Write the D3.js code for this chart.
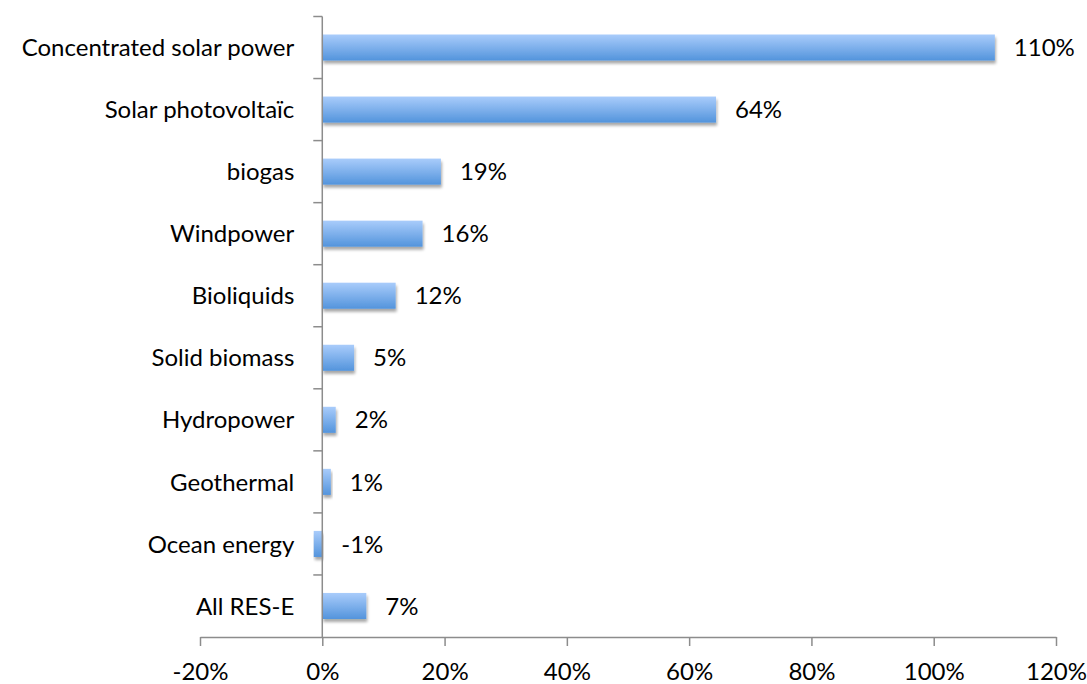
<!DOCTYPE html>
<html>
<head>
<meta charset="utf-8">
<script src="https://cdn.jsdelivr.net/npm/d3@7"></script>
<style>
  html, body { margin: 0; padding: 0; background: #fff; }
  svg { display: block; }
  text { font-family: Lato, "Open Sans", sans-serif; fill: #000; }
</style>
</head>
<body>
<svg id="chart" width="1087" height="684"></svg>
<script>
// Growth by renewable electricity technology
const categories = [
  "Concentrated solar power",
  "Solar photovoltaïc ",
  "biogas",
  "Windpower",
  "Bioliquids",
  "Solid biomass",
  "Hydropower",
  "Geothermal",
  "Ocean energy",
  "All RES-E"
];
const growth = [1.10, 0.644, 0.194, 0.164, 0.12, 0.052, 0.022, 0.014, -0.014, 0.072];
const xTicks = [-0.2, 0, 0.2, 0.4, 0.6, 0.8, 1.0, 1.2];

const data = categories.map((c, i) => ({ name: c, value: growth[i] }));

const svg = d3.select("#chart");
const margin = { top: 16.5, right: 31, bottom: 47, left: 200 };
const W = 1087, H = 684;
const FS = 24;

const x = d3.scaleLinear()
  .domain([-0.2, 1.2])
  .range([margin.left, W - margin.right]);

const y = d3.scaleBand()
  .domain(categories)
  .range([margin.top, H - margin.bottom])
  .paddingInner(0.58)
  .paddingOuter(0.29);

// percent format with a plain hyphen for negatives
const pct = d3.format(".0%");
const fmt = v => pct(v).replace("\u2212", "-");

const defs = svg.append("defs");
const grad = defs.append("linearGradient")
  .attr("id", "barFill").attr("x1", 0).attr("y1", 0).attr("x2", 0).attr("y2", 1);
grad.append("stop").attr("offset", "0%").attr("stop-color", "#a9ccfb");
grad.append("stop").attr("offset", "100%").attr("stop-color", "#5394dc");

const shadow = defs.append("filter").attr("id", "barShadow")
  .attr("x", "-10%").attr("y", "-30%").attr("width", "130%").attr("height", "180%");
shadow.append("feGaussianBlur").attr("in", "SourceAlpha").attr("stdDeviation", 1.6).attr("result", "b");
shadow.append("feOffset").attr("in", "b").attr("dx", 1).attr("dy", 2.5).attr("result", "o");
shadow.append("feComponentTransfer").attr("in", "o").attr("result", "s")
  .append("feFuncA").attr("type", "linear").attr("slope", 0.35);
const merge = shadow.append("feMerge");
merge.append("feMergeNode").attr("in", "s");
merge.append("feMergeNode").attr("in", "SourceGraphic");

// Bars
svg.append("g")
  .selectAll("rect")
  .data(data)
  .join("rect")
  .attr("x", d => x(Math.min(0, d.value)))
  .attr("y", d => y(d.name))
  .attr("width", d => Math.abs(x(d.value) - x(0)))
  .attr("height", y.bandwidth())
  .attr("fill", "url(#barFill)")
  .attr("filter", "url(#barShadow)");

// Value labels
svg.append("g")
  .selectAll("text")
  .data(data)
  .join("text")
  .attr("x", d => Math.max(x(d.value), x(0)) + 19)
  .attr("y", d => y(d.name) + y.bandwidth() / 2)
  .attr("dy", "0.36em")
  .attr("font-size", FS)
  .text(d => fmt(d.value));

// X axis
const xAxis = svg.append("g")
  .attr("transform", `translate(0,${H - margin.bottom})`)
  .call(d3.axisBottom(x).tickValues(xTicks).tickFormat(fmt).tickSize(9).tickSizeOuter(0).tickPadding(17));
xAxis.select(".domain").attr("stroke", "#8c8c8c").attr("stroke-width", 1.5);
xAxis.selectAll(".tick line").attr("stroke", "#8c8c8c").attr("stroke-width", 1.5);
xAxis.selectAll(".tick text").attr("font-size", FS).attr("font-family", "Lato, sans-serif").attr("fill", "#000");

// Y axis at zero, with ticks between categories
const yAxis = svg.append("g").attr("transform", `translate(${x(0)},0)`);
const bounds = d3.range(categories.length + 1).map(i => margin.top + i * ((H - margin.bottom - margin.top) / categories.length));
yAxis.append("line")
  .attr("x1", 0).attr("x2", 0)
  .attr("y1", bounds[0]).attr("y2", bounds[bounds.length - 1])
  .attr("stroke", "#8c8c8c").attr("stroke-width", 1.5);
yAxis.selectAll("line.tick")
  .data(bounds.slice(0, -1))
  .join("line")
  .attr("class", "tick")
  .attr("x1", -9).attr("x2", 0)
  .attr("y1", d => d).attr("y2", d => d)
  .attr("stroke", "#8c8c8c").attr("stroke-width", 1.5);

// Category labels
svg.append("g")
  .selectAll("text")
  .data(categories)
  .join("text")
  .attr("x", x(0) - 28)
  .attr("y", d => y(d) + y.bandwidth() / 2)
  .attr("dy", "0.36em")
  .attr("text-anchor", "end")
  .attr("font-size", FS)
  .text(d => d);
</script>
</body>
</html>
